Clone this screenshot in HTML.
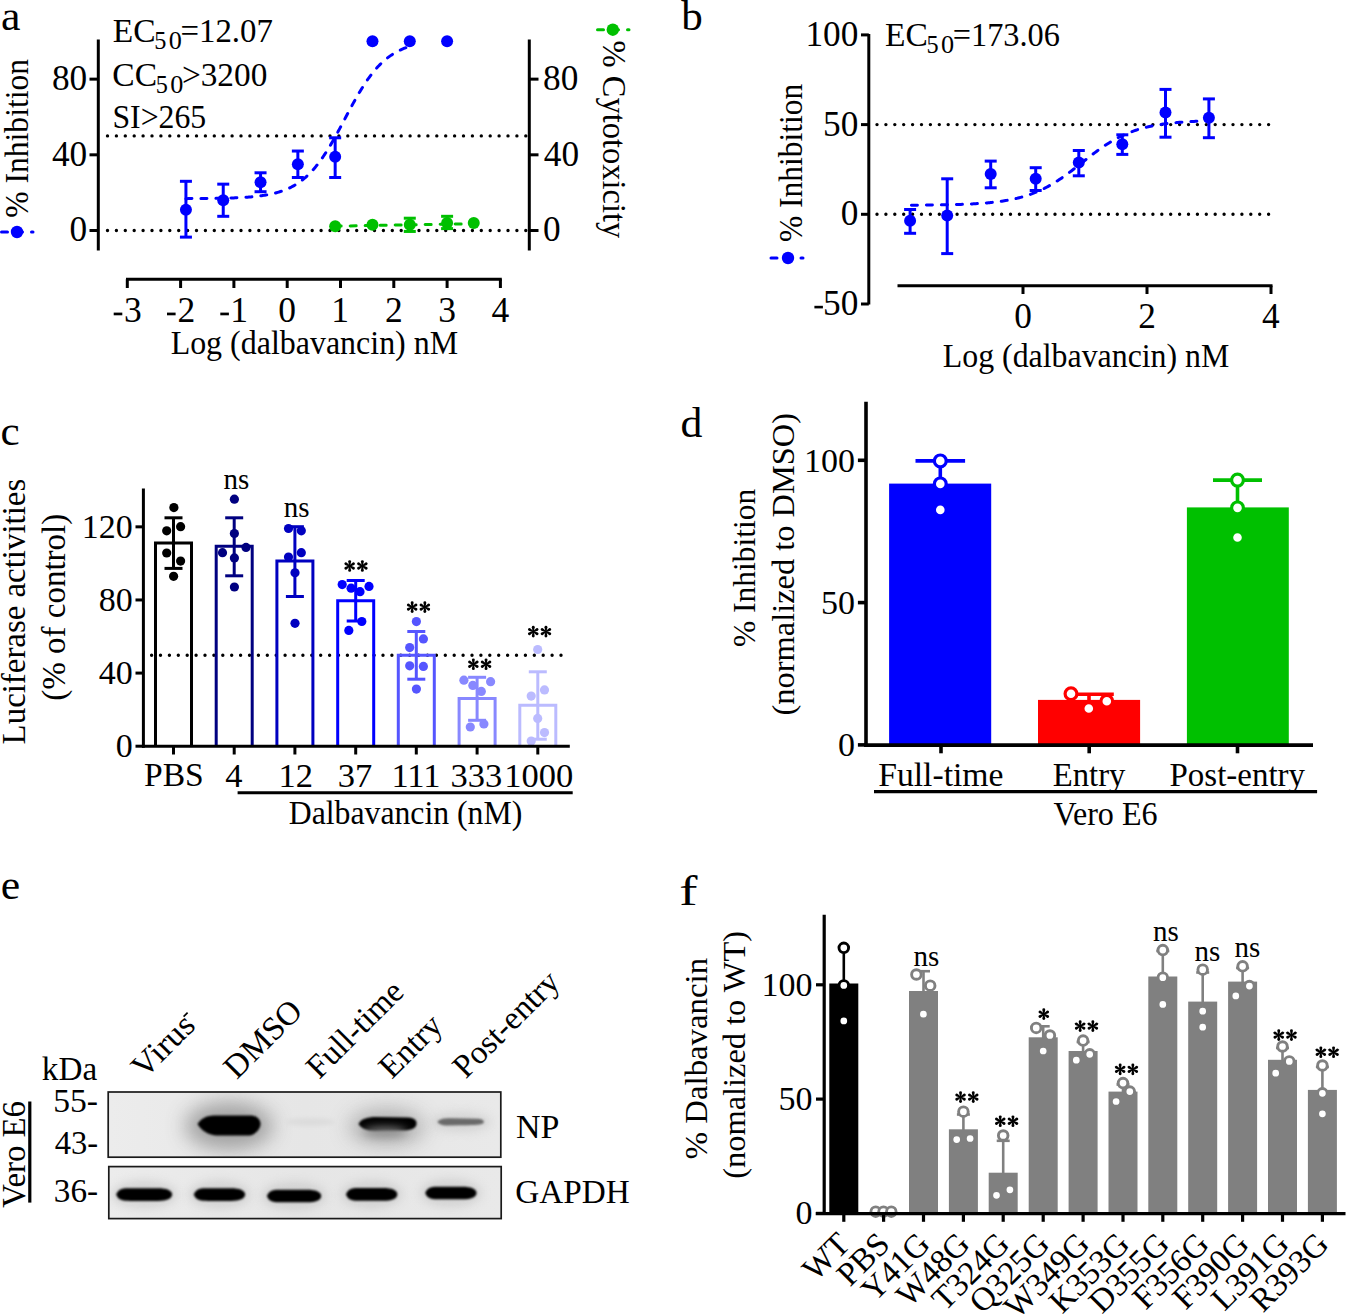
<!DOCTYPE html>
<html><head><meta charset="utf-8"><style>
html,body{margin:0;padding:0;background:#fff;overflow:hidden;}
svg{display:block;}
text{font-family:"Liberation Serif", serif;}
</style></head><body>
<svg width="1347" height="1316" viewBox="0 0 1347 1316">
<defs>
<g id="ast"><path d="M-0.65,-0.3 L-1.45,-4.4 A1.45,1.45 0 1 1 1.45,-4.4 L0.65,-0.3 Z" transform="rotate(0)"/><path d="M-0.65,-0.3 L-1.45,-4.4 A1.45,1.45 0 1 1 1.45,-4.4 L0.65,-0.3 Z" transform="rotate(60)"/><path d="M-0.65,-0.3 L-1.45,-4.4 A1.45,1.45 0 1 1 1.45,-4.4 L0.65,-0.3 Z" transform="rotate(120)"/><path d="M-0.65,-0.3 L-1.45,-4.4 A1.45,1.45 0 1 1 1.45,-4.4 L0.65,-0.3 Z" transform="rotate(180)"/><path d="M-0.65,-0.3 L-1.45,-4.4 A1.45,1.45 0 1 1 1.45,-4.4 L0.65,-0.3 Z" transform="rotate(240)"/><path d="M-0.65,-0.3 L-1.45,-4.4 A1.45,1.45 0 1 1 1.45,-4.4 L0.65,-0.3 Z" transform="rotate(300)"/><circle r="1.1"/></g>
<filter id="blur1" x="-50%" y="-100%" width="200%" height="300%"><feGaussianBlur stdDeviation="1.3"/></filter>
<filter id="blur2" x="-50%" y="-100%" width="200%" height="300%"><feGaussianBlur stdDeviation="2.2"/></filter>
<filter id="blur4" x="-50%" y="-100%" width="200%" height="300%"><feGaussianBlur stdDeviation="5"/></filter>
<filter id="blur8" x="-50%" y="-100%" width="200%" height="300%"><feGaussianBlur stdDeviation="10"/></filter>
</defs>
<text x="1.07" y="30.10" font-size="43" fill="#000" textLength="19.44" lengthAdjust="spacingAndGlyphs">a</text>
<line x1="98.30" y1="39.50" x2="98.30" y2="250.50" stroke="#000" stroke-width="3" />
<line x1="529.30" y1="39.50" x2="529.30" y2="250.50" stroke="#000" stroke-width="3" />
<line x1="89.50" y1="79.14" x2="98.30" y2="79.14" stroke="#000" stroke-width="3" />
<line x1="529.30" y1="79.14" x2="538.50" y2="79.14" stroke="#000" stroke-width="3" />
<text x="51.91" y="89.94" font-size="35.3" fill="#000" textLength="35.30" lengthAdjust="spacingAndGlyphs">80</text>
<text x="543.09" y="89.94" font-size="35.3" fill="#000" textLength="35.30" lengthAdjust="spacingAndGlyphs">80</text>
<line x1="89.50" y1="154.82" x2="98.30" y2="154.82" stroke="#000" stroke-width="3" />
<line x1="529.30" y1="154.82" x2="538.50" y2="154.82" stroke="#000" stroke-width="3" />
<text x="51.91" y="165.62" font-size="35.3" fill="#000" textLength="35.30" lengthAdjust="spacingAndGlyphs">40</text>
<text x="543.79" y="165.62" font-size="35.3" fill="#000" textLength="35.30" lengthAdjust="spacingAndGlyphs">40</text>
<line x1="89.50" y1="230.50" x2="98.30" y2="230.50" stroke="#000" stroke-width="3" />
<line x1="529.30" y1="230.50" x2="538.50" y2="230.50" stroke="#000" stroke-width="3" />
<text x="69.56" y="241.30" font-size="35.3" fill="#000" textLength="17.65" lengthAdjust="spacingAndGlyphs">0</text>
<text x="543.09" y="241.30" font-size="35.3" fill="#000" textLength="17.65" lengthAdjust="spacingAndGlyphs">0</text>
<line x1="107.50" y1="135.90" x2="528.00" y2="135.90" stroke="#000" stroke-width="3.4" stroke-linecap="round" stroke-dasharray="0 8.9"/>
<line x1="107.50" y1="230.50" x2="528.00" y2="230.50" stroke="#000" stroke-width="3.4" stroke-linecap="round" stroke-dasharray="0 8.9"/>
<line x1="126.00" y1="279.20" x2="501.80" y2="279.20" stroke="#000" stroke-width="3" />
<line x1="127.30" y1="279.20" x2="127.30" y2="288.00" stroke="#000" stroke-width="3" />
<text x="123.94" y="321.80" font-size="35.5" fill="#000" textLength="17.75" lengthAdjust="spacingAndGlyphs">3</text>
<rect x="113.70" y="312.60" width="8.60" height="2.70" fill="#000" stroke="none" stroke-width="0" />
<line x1="180.60" y1="279.20" x2="180.60" y2="288.00" stroke="#000" stroke-width="3" />
<text x="177.50" y="321.80" font-size="35.5" fill="#000" textLength="17.75" lengthAdjust="spacingAndGlyphs">2</text>
<rect x="167.00" y="312.60" width="8.60" height="2.70" fill="#000" stroke="none" stroke-width="0" />
<line x1="233.90" y1="279.20" x2="233.90" y2="288.00" stroke="#000" stroke-width="3" />
<text x="230.18" y="321.80" font-size="35.5" fill="#000" textLength="17.75" lengthAdjust="spacingAndGlyphs">1</text>
<rect x="220.30" y="312.60" width="8.60" height="2.70" fill="#000" stroke="none" stroke-width="0" />
<line x1="287.20" y1="279.20" x2="287.20" y2="288.00" stroke="#000" stroke-width="3" />
<text x="278.32" y="321.80" font-size="35.5" fill="#000" textLength="17.75" lengthAdjust="spacingAndGlyphs">0</text>
<line x1="340.50" y1="279.20" x2="340.50" y2="288.00" stroke="#000" stroke-width="3" />
<text x="331.18" y="321.80" font-size="35.5" fill="#000" textLength="17.75" lengthAdjust="spacingAndGlyphs">1</text>
<line x1="393.80" y1="279.20" x2="393.80" y2="288.00" stroke="#000" stroke-width="3" />
<text x="385.10" y="321.80" font-size="35.5" fill="#000" textLength="17.75" lengthAdjust="spacingAndGlyphs">2</text>
<line x1="447.10" y1="279.20" x2="447.10" y2="288.00" stroke="#000" stroke-width="3" />
<text x="438.14" y="321.80" font-size="35.5" fill="#000" textLength="17.75" lengthAdjust="spacingAndGlyphs">3</text>
<line x1="500.40" y1="279.20" x2="500.40" y2="288.00" stroke="#000" stroke-width="3" />
<text x="491.44" y="321.80" font-size="35.5" fill="#000" textLength="17.75" lengthAdjust="spacingAndGlyphs">4</text>
<text x="170.64" y="354.40" font-size="34" fill="#000" textLength="287.52" lengthAdjust="spacingAndGlyphs">Log (dalbavancin) nM</text>
<text x="-1.11" y="0.00" font-size="33" fill="#000" textLength="158.96" lengthAdjust="spacingAndGlyphs" transform="translate(27.90,216.70) rotate(-90)">% Inhibition</text>
<text x="-1.14" y="0.00" font-size="33" fill="#000" textLength="197.63" lengthAdjust="spacingAndGlyphs" transform="translate(603.10,41.70) rotate(90)">% Cytotoxicity</text>
<polyline points="1.50,232.00 33.00,232.00" fill="none" stroke="#0000ff" stroke-width="3" stroke-dasharray="6 9" stroke-linecap="round"/>
<circle cx="17.00" cy="232.00" r="6.2" fill="#0000ff" stroke="none" stroke-width="0"/>
<polyline points="597.50,29.70 629.00,29.70" fill="none" stroke="#00c000" stroke-width="3" stroke-dasharray="6 9" stroke-linecap="round"/>
<circle cx="612.80" cy="29.70" r="6.2" fill="#00c000" stroke="none" stroke-width="0"/>
<text x="112.70" y="42.10" font-size="33.5" fill="#000" textLength="42.81" lengthAdjust="spacingAndGlyphs">EC</text>
<text x="154.31" y="49.40" font-size="25" fill="#000" textLength="12.13" lengthAdjust="spacingAndGlyphs">5</text>
<text x="168.72" y="49.40" font-size="25" fill="#000" textLength="13.10" lengthAdjust="spacingAndGlyphs">0</text>
<text x="180.42" y="42.10" font-size="33.5" fill="#000" textLength="92.53" lengthAdjust="spacingAndGlyphs">=12.07</text>
<text x="112.36" y="86.00" font-size="33.5" fill="#000" textLength="44.69" lengthAdjust="spacingAndGlyphs">CC</text>
<text x="155.82" y="93.30" font-size="25" fill="#000" textLength="12.13" lengthAdjust="spacingAndGlyphs">5</text>
<text x="170.22" y="93.30" font-size="25" fill="#000" textLength="13.10" lengthAdjust="spacingAndGlyphs">0</text>
<text x="181.91" y="86.00" font-size="33.5" fill="#000" textLength="85.39" lengthAdjust="spacingAndGlyphs">&gt;3200</text>
<text x="112.44" y="128.00" font-size="33.5" fill="#000" textLength="93.78" lengthAdjust="spacingAndGlyphs">SI&gt;265</text>
<polyline points="185.93,198.63 187.00,198.63 188.06,198.62 189.13,198.62 190.19,198.61 191.26,198.61 192.33,198.60 193.39,198.59 194.46,198.59 195.52,198.58 196.59,198.58 197.66,198.57 198.72,198.56 199.79,198.55 200.85,198.54 201.92,198.54 202.99,198.53 204.05,198.52 205.12,198.51 206.18,198.49 207.25,198.48 208.32,198.47 209.38,198.46 210.45,198.45 211.51,198.43 212.58,198.42 213.65,198.40 214.71,198.39 215.78,198.37 216.84,198.35 217.91,198.33 218.98,198.31 220.04,198.29 221.11,198.27 222.17,198.25 223.24,198.22 224.31,198.20 225.37,198.17 226.44,198.14 227.50,198.11 228.57,198.08 229.64,198.05 230.70,198.01 231.77,197.98 232.83,197.94 233.90,197.90 234.97,197.86 236.03,197.81 237.10,197.76 238.16,197.72 239.23,197.66 240.30,197.61 241.36,197.55 242.43,197.49 243.49,197.43 244.56,197.36 245.63,197.29 246.69,197.22 247.76,197.14 248.82,197.06 249.89,196.98 250.96,196.89 252.02,196.80 253.09,196.70 254.15,196.59 255.22,196.49 256.29,196.37 257.35,196.25 258.42,196.13 259.48,195.99 260.55,195.85 261.62,195.71 262.68,195.56 263.75,195.39 264.81,195.23 265.88,195.05 266.95,194.86 268.01,194.67 269.08,194.46 270.14,194.25 271.21,194.02 272.28,193.79 273.34,193.54 274.41,193.28 275.47,193.01 276.54,192.72 277.61,192.42 278.67,192.11 279.74,191.78 280.80,191.44 281.87,191.08 282.94,190.70 284.00,190.31 285.07,189.89 286.13,189.46 287.20,189.01 288.27,188.54 289.33,188.05 290.40,187.53 291.46,186.99 292.53,186.43 293.60,185.84 294.66,185.23 295.73,184.59 296.79,183.93 297.86,183.23 298.93,182.51 299.99,181.76 301.06,180.97 302.12,180.16 303.19,179.31 304.26,178.43 305.32,177.52 306.39,176.57 307.45,175.59 308.52,174.57 309.59,173.51 310.65,172.42 311.72,171.29 312.78,170.12 313.85,168.91 314.92,167.66 315.98,166.38 317.05,165.05 318.11,163.69 319.18,162.28 320.25,160.84 321.31,159.36 322.38,157.84 323.44,156.28 324.51,154.69 325.58,153.05 326.64,151.39 327.71,149.68 328.77,147.95 329.84,146.18 330.91,144.38 331.97,142.55 333.04,140.70 334.10,138.82 335.17,136.91 336.24,134.98 337.30,133.04 338.37,131.07 339.43,129.10 340.50,127.10 341.57,125.10 342.63,123.09 343.70,121.08 344.76,119.06 345.83,117.04 346.90,115.03 347.96,113.02 349.03,111.02 350.09,109.03 351.16,107.05 352.23,105.08 353.29,103.14 354.36,101.21 355.42,99.31 356.49,97.43 357.56,95.57 358.62,93.74 359.69,91.94 360.75,90.18 361.82,88.44 362.89,86.74 363.95,85.07 365.02,83.44 366.08,81.84 367.15,80.28 368.22,78.76 369.28,77.28 370.35,75.84 371.41,74.43 372.48,73.07 373.55,71.74 374.61,70.46 375.68,69.21 376.74,68.00 377.81,66.83 378.88,65.70 379.94,64.61 381.01,63.55 382.07,62.53 383.14,61.55 384.21,60.60 385.27,59.69 386.34,58.81 387.40,57.96 388.47,57.15 389.54,56.37 390.60,55.61 391.67,54.89 392.73,54.20 393.80,53.53 394.87,52.89 395.93,52.28 397.00,51.69 398.06,51.13 399.13,50.59 400.20,50.08 401.26,49.58 402.33,49.11 403.39,48.66 404.46,48.23 405.53,47.82 406.59,47.42 407.66,47.04 408.72,46.68" fill="none" stroke="#0000ff" stroke-width="3" stroke-dasharray="6 9" stroke-linecap="round"/>
<line x1="185.93" y1="181.31" x2="185.93" y2="237.12" stroke="#0000ff" stroke-width="3" />
<line x1="179.93" y1="181.31" x2="191.93" y2="181.31" stroke="#0000ff" stroke-width="3" />
<line x1="179.93" y1="237.12" x2="191.93" y2="237.12" stroke="#0000ff" stroke-width="3" />
<circle cx="185.93" cy="209.69" r="6" fill="#0000ff" stroke="none" stroke-width="0"/>
<line x1="223.24" y1="184.15" x2="223.24" y2="216.31" stroke="#0000ff" stroke-width="3" />
<line x1="217.24" y1="184.15" x2="229.24" y2="184.15" stroke="#0000ff" stroke-width="3" />
<line x1="217.24" y1="216.31" x2="229.24" y2="216.31" stroke="#0000ff" stroke-width="3" />
<circle cx="223.24" cy="200.23" r="6" fill="#0000ff" stroke="none" stroke-width="0"/>
<line x1="260.55" y1="172.79" x2="260.55" y2="191.71" stroke="#0000ff" stroke-width="3" />
<line x1="254.55" y1="172.79" x2="266.55" y2="172.79" stroke="#0000ff" stroke-width="3" />
<line x1="254.55" y1="191.71" x2="266.55" y2="191.71" stroke="#0000ff" stroke-width="3" />
<circle cx="260.55" cy="182.25" r="6" fill="#0000ff" stroke="none" stroke-width="0"/>
<line x1="297.86" y1="151.04" x2="297.86" y2="177.52" stroke="#0000ff" stroke-width="3" />
<line x1="291.86" y1="151.04" x2="303.86" y2="151.04" stroke="#0000ff" stroke-width="3" />
<line x1="291.86" y1="177.52" x2="303.86" y2="177.52" stroke="#0000ff" stroke-width="3" />
<circle cx="297.86" cy="164.28" r="6" fill="#0000ff" stroke="none" stroke-width="0"/>
<line x1="335.17" y1="137.79" x2="335.17" y2="177.52" stroke="#0000ff" stroke-width="3" />
<line x1="329.17" y1="137.79" x2="341.17" y2="137.79" stroke="#0000ff" stroke-width="3" />
<line x1="329.17" y1="177.52" x2="341.17" y2="177.52" stroke="#0000ff" stroke-width="3" />
<circle cx="335.17" cy="156.71" r="6" fill="#0000ff" stroke="none" stroke-width="0"/>
<circle cx="372.48" cy="41.30" r="6" fill="#0000ff" stroke="none" stroke-width="0"/>
<circle cx="409.79" cy="41.30" r="6" fill="#0000ff" stroke="none" stroke-width="0"/>
<circle cx="447.10" cy="41.30" r="6" fill="#0000ff" stroke="none" stroke-width="0"/>
<polyline points="335.17,226.15 473.75,223.69" fill="none" stroke="#00c000" stroke-width="3" stroke-dasharray="6 9" stroke-linecap="round"/>
<circle cx="335.17" cy="226.34" r="6" fill="#00c000" stroke="none" stroke-width="0"/>
<circle cx="372.48" cy="224.82" r="6" fill="#00c000" stroke="none" stroke-width="0"/>
<line x1="409.79" y1="218.20" x2="409.79" y2="231.45" stroke="#00c000" stroke-width="3" />
<line x1="403.79" y1="218.20" x2="415.79" y2="218.20" stroke="#00c000" stroke-width="3" />
<line x1="403.79" y1="231.45" x2="415.79" y2="231.45" stroke="#00c000" stroke-width="3" />
<circle cx="409.79" cy="224.82" r="6" fill="#00c000" stroke="none" stroke-width="0"/>
<line x1="447.10" y1="216.31" x2="447.10" y2="228.61" stroke="#00c000" stroke-width="3" />
<line x1="441.10" y1="216.31" x2="453.10" y2="216.31" stroke="#00c000" stroke-width="3" />
<line x1="441.10" y1="228.61" x2="453.10" y2="228.61" stroke="#00c000" stroke-width="3" />
<circle cx="447.10" cy="222.93" r="6" fill="#00c000" stroke="none" stroke-width="0"/>
<circle cx="473.75" cy="222.93" r="6" fill="#00c000" stroke="none" stroke-width="0"/>
<text x="681.20" y="30.10" font-size="43" fill="#000" textLength="21.52" lengthAdjust="spacingAndGlyphs">b</text>
<line x1="868.80" y1="34.00" x2="868.80" y2="304.50" stroke="#000" stroke-width="3" />
<line x1="861.00" y1="34.90" x2="868.80" y2="34.90" stroke="#000" stroke-width="3" />
<text x="805.46" y="45.80" font-size="35.3" fill="#000" textLength="52.95" lengthAdjust="spacingAndGlyphs">100</text>
<line x1="861.00" y1="124.60" x2="868.80" y2="124.60" stroke="#000" stroke-width="3" />
<text x="823.11" y="135.50" font-size="35.3" fill="#000" textLength="35.30" lengthAdjust="spacingAndGlyphs">50</text>
<line x1="861.00" y1="214.30" x2="868.80" y2="214.30" stroke="#000" stroke-width="3" />
<text x="840.76" y="225.20" font-size="35.3" fill="#000" textLength="17.65" lengthAdjust="spacingAndGlyphs">0</text>
<line x1="861.00" y1="304.00" x2="868.80" y2="304.00" stroke="#000" stroke-width="3" />
<text x="823.11" y="314.90" font-size="35.3" fill="#000" textLength="35.30" lengthAdjust="spacingAndGlyphs">50</text>
<rect x="814.40" y="305.80" width="8.50" height="2.60" fill="#000" stroke="none" stroke-width="0" />
<line x1="877.00" y1="124.60" x2="1271.00" y2="124.60" stroke="#000" stroke-width="3.4" stroke-linecap="round" stroke-dasharray="0 8.9"/>
<line x1="877.00" y1="214.30" x2="1271.00" y2="214.30" stroke="#000" stroke-width="3.4" stroke-linecap="round" stroke-dasharray="0 8.9"/>
<line x1="897.50" y1="285.70" x2="1272.50" y2="285.70" stroke="#000" stroke-width="3" />
<line x1="1023.00" y1="285.70" x2="1023.00" y2="294.00" stroke="#000" stroke-width="3" />
<text x="1014.17" y="327.60" font-size="35.3" fill="#000" textLength="17.65" lengthAdjust="spacingAndGlyphs">0</text>
<line x1="1147.00" y1="285.70" x2="1147.00" y2="294.00" stroke="#000" stroke-width="3" />
<text x="1138.35" y="327.60" font-size="35.3" fill="#000" textLength="17.65" lengthAdjust="spacingAndGlyphs">2</text>
<line x1="1271.00" y1="285.70" x2="1271.00" y2="294.00" stroke="#000" stroke-width="3" />
<text x="1262.09" y="327.60" font-size="35.3" fill="#000" textLength="17.65" lengthAdjust="spacingAndGlyphs">4</text>
<text x="942.84" y="367.10" font-size="34" fill="#000" textLength="286.52" lengthAdjust="spacingAndGlyphs">Log (dalbavancin) nM</text>
<text x="-1.10" y="0.00" font-size="33" fill="#000" textLength="158.25" lengthAdjust="spacingAndGlyphs" transform="translate(801.50,241.00) rotate(-90)">% Inhibition</text>
<polyline points="771.00,258.00 803.00,258.00" fill="none" stroke="#0000ff" stroke-width="3" stroke-dasharray="6 9" stroke-linecap="round"/>
<circle cx="788.00" cy="258.00" r="6.2" fill="#0000ff" stroke="none" stroke-width="0"/>
<text x="885.00" y="46.00" font-size="33.5" fill="#000" textLength="42.81" lengthAdjust="spacingAndGlyphs">EC</text>
<text x="926.61" y="53.30" font-size="25" fill="#000" textLength="12.12" lengthAdjust="spacingAndGlyphs">5</text>
<text x="941.02" y="53.30" font-size="25" fill="#000" textLength="13.10" lengthAdjust="spacingAndGlyphs">0</text>
<text x="952.75" y="46.00" font-size="33.5" fill="#000" textLength="107.19" lengthAdjust="spacingAndGlyphs">=173.06</text>
<polyline points="911.40,205.18 912.64,205.17 913.88,205.16 915.12,205.16 916.36,205.15 917.60,205.14 918.84,205.13 920.08,205.12 921.32,205.11 922.56,205.10 923.80,205.09 925.04,205.08 926.28,205.07 927.52,205.06 928.76,205.04 930.00,205.03 931.24,205.01 932.48,205.00 933.72,204.98 934.96,204.97 936.20,204.95 937.44,204.93 938.68,204.91 939.92,204.90 941.16,204.87 942.40,204.85 943.64,204.83 944.88,204.81 946.12,204.78 947.36,204.76 948.60,204.73 949.84,204.70 951.08,204.67 952.32,204.64 953.56,204.61 954.80,204.58 956.04,204.54 957.28,204.51 958.52,204.47 959.76,204.43 961.00,204.38 962.24,204.34 963.48,204.29 964.72,204.25 965.96,204.20 967.20,204.14 968.44,204.09 969.68,204.03 970.92,203.97 972.16,203.91 973.40,203.84 974.64,203.77 975.88,203.70 977.12,203.62 978.36,203.55 979.60,203.46 980.84,203.38 982.08,203.29 983.32,203.19 984.56,203.10 985.80,202.99 987.04,202.89 988.28,202.78 989.52,202.66 990.76,202.54 992.00,202.41 993.24,202.28 994.48,202.14 995.72,201.99 996.96,201.84 998.20,201.69 999.44,201.52 1000.68,201.35 1001.92,201.17 1003.16,200.99 1004.40,200.79 1005.64,200.59 1006.88,200.38 1008.12,200.16 1009.36,199.93 1010.60,199.70 1011.84,199.45 1013.08,199.19 1014.32,198.92 1015.56,198.65 1016.80,198.36 1018.04,198.06 1019.28,197.74 1020.52,197.42 1021.76,197.08 1023.00,196.73 1024.24,196.37 1025.48,195.99 1026.72,195.61 1027.96,195.20 1029.20,194.78 1030.44,194.35 1031.68,193.90 1032.92,193.44 1034.16,192.96 1035.40,192.46 1036.64,191.95 1037.88,191.43 1039.12,190.88 1040.36,190.32 1041.60,189.74 1042.84,189.15 1044.08,188.53 1045.32,187.91 1046.56,187.26 1047.80,186.59 1049.04,185.91 1050.28,185.21 1051.52,184.50 1052.76,183.76 1054.00,183.01 1055.24,182.25 1056.48,181.46 1057.72,180.66 1058.96,179.85 1060.20,179.02 1061.44,178.17 1062.68,177.31 1063.92,176.44 1065.16,175.56 1066.40,174.66 1067.64,173.75 1068.88,172.83 1070.12,171.90 1071.36,170.96 1072.60,170.01 1073.84,169.05 1075.08,168.09 1076.32,167.12 1077.56,166.15 1078.80,165.17 1080.04,164.19 1081.28,163.21 1082.52,162.23 1083.76,161.25 1085.00,160.27 1086.24,159.30 1087.48,158.32 1088.72,157.36 1089.96,156.39 1091.20,155.44 1092.44,154.49 1093.68,153.55 1094.92,152.62 1096.16,151.70 1097.40,150.79 1098.64,149.89 1099.88,149.00 1101.12,148.13 1102.36,147.27 1103.60,146.43 1104.84,145.60 1106.08,144.78 1107.32,143.98 1108.56,143.20 1109.80,142.43 1111.04,141.68 1112.28,140.95 1113.52,140.23 1114.76,139.53 1116.00,138.85 1117.24,138.19 1118.48,137.54 1119.72,136.91 1120.96,136.30 1122.20,135.70 1123.44,135.12 1124.68,134.56 1125.92,134.02 1127.16,133.49 1128.40,132.98 1129.64,132.49 1130.88,132.01 1132.12,131.54 1133.36,131.10 1134.60,130.66 1135.84,130.24 1137.08,129.84 1138.32,129.45 1139.56,129.07 1140.80,128.71 1142.04,128.36 1143.28,128.03 1144.52,127.70 1145.76,127.39 1147.00,127.09 1148.24,126.80 1149.48,126.52 1150.72,126.25 1151.96,126.00 1153.20,125.75 1154.44,125.51 1155.68,125.28 1156.92,125.06 1158.16,124.85 1159.40,124.65 1160.64,124.46 1161.88,124.27 1163.12,124.09 1164.36,123.92 1165.60,123.76 1166.84,123.60 1168.08,123.45 1169.32,123.31 1170.56,123.17 1171.80,123.03 1173.04,122.91 1174.28,122.79 1175.52,122.67 1176.76,122.56 1178.00,122.45 1179.24,122.35 1180.48,122.25 1181.72,122.16 1182.96,122.07 1184.20,121.98 1185.44,121.90 1186.68,121.82 1187.92,121.74 1189.16,121.67 1190.40,121.60 1191.64,121.54 1192.88,121.47 1194.12,121.41 1195.36,121.36 1196.60,121.30 1197.84,121.25 1199.08,121.20 1200.32,121.15 1201.56,121.10 1202.80,121.06 1204.04,121.02 1205.28,120.98 1206.52,120.94 1207.76,120.90 1209.00,120.87" fill="none" stroke="#0000ff" stroke-width="3" stroke-dasharray="6 9" stroke-linecap="round"/>
<line x1="910.10" y1="209.50" x2="910.10" y2="233.30" stroke="#0000ff" stroke-width="3" />
<line x1="904.10" y1="209.50" x2="916.10" y2="209.50" stroke="#0000ff" stroke-width="3" />
<line x1="904.10" y1="233.30" x2="916.10" y2="233.30" stroke="#0000ff" stroke-width="3" />
<circle cx="910.10" cy="220.80" r="6" fill="#0000ff" stroke="none" stroke-width="0"/>
<line x1="947.20" y1="178.80" x2="947.20" y2="253.60" stroke="#0000ff" stroke-width="3" />
<line x1="941.20" y1="178.80" x2="953.20" y2="178.80" stroke="#0000ff" stroke-width="3" />
<line x1="941.20" y1="253.60" x2="953.20" y2="253.60" stroke="#0000ff" stroke-width="3" />
<circle cx="947.20" cy="215.50" r="6" fill="#0000ff" stroke="none" stroke-width="0"/>
<line x1="990.70" y1="161.10" x2="990.70" y2="187.80" stroke="#0000ff" stroke-width="3" />
<line x1="984.70" y1="161.10" x2="996.70" y2="161.10" stroke="#0000ff" stroke-width="3" />
<line x1="984.70" y1="187.80" x2="996.70" y2="187.80" stroke="#0000ff" stroke-width="3" />
<circle cx="990.70" cy="174.10" r="6" fill="#0000ff" stroke="none" stroke-width="0"/>
<line x1="1035.70" y1="167.70" x2="1035.70" y2="190.50" stroke="#0000ff" stroke-width="3" />
<line x1="1029.70" y1="167.70" x2="1041.70" y2="167.70" stroke="#0000ff" stroke-width="3" />
<line x1="1029.70" y1="190.50" x2="1041.70" y2="190.50" stroke="#0000ff" stroke-width="3" />
<circle cx="1035.70" cy="178.80" r="6" fill="#0000ff" stroke="none" stroke-width="0"/>
<line x1="1078.80" y1="150.50" x2="1078.80" y2="175.80" stroke="#0000ff" stroke-width="3" />
<line x1="1072.80" y1="150.50" x2="1084.80" y2="150.50" stroke="#0000ff" stroke-width="3" />
<line x1="1072.80" y1="175.80" x2="1084.80" y2="175.80" stroke="#0000ff" stroke-width="3" />
<circle cx="1078.80" cy="162.40" r="6" fill="#0000ff" stroke="none" stroke-width="0"/>
<line x1="1122.30" y1="134.80" x2="1122.30" y2="154.40" stroke="#0000ff" stroke-width="3" />
<line x1="1116.30" y1="134.80" x2="1128.30" y2="134.80" stroke="#0000ff" stroke-width="3" />
<line x1="1116.30" y1="154.40" x2="1128.30" y2="154.40" stroke="#0000ff" stroke-width="3" />
<circle cx="1122.30" cy="144.20" r="6" fill="#0000ff" stroke="none" stroke-width="0"/>
<line x1="1165.50" y1="89.40" x2="1165.50" y2="137.20" stroke="#0000ff" stroke-width="3" />
<line x1="1159.50" y1="89.40" x2="1171.50" y2="89.40" stroke="#0000ff" stroke-width="3" />
<line x1="1159.50" y1="137.20" x2="1171.50" y2="137.20" stroke="#0000ff" stroke-width="3" />
<circle cx="1165.50" cy="112.60" r="6" fill="#0000ff" stroke="none" stroke-width="0"/>
<line x1="1208.90" y1="98.90" x2="1208.90" y2="137.70" stroke="#0000ff" stroke-width="3" />
<line x1="1202.90" y1="98.90" x2="1214.90" y2="98.90" stroke="#0000ff" stroke-width="3" />
<line x1="1202.90" y1="137.70" x2="1214.90" y2="137.70" stroke="#0000ff" stroke-width="3" />
<circle cx="1208.90" cy="117.70" r="6" fill="#0000ff" stroke="none" stroke-width="0"/>
<text x="0.57" y="445.20" font-size="43" fill="#000" textLength="19.17" lengthAdjust="spacingAndGlyphs">c</text>
<line x1="143.40" y1="488.50" x2="143.40" y2="747.70" stroke="#000" stroke-width="3" />
<line x1="135.50" y1="746.20" x2="143.40" y2="746.20" stroke="#000" stroke-width="3" />
<text x="115.86" y="757.20" font-size="34" fill="#000" textLength="17.00" lengthAdjust="spacingAndGlyphs">0</text>
<line x1="135.50" y1="673.08" x2="143.40" y2="673.08" stroke="#000" stroke-width="3" />
<text x="98.86" y="684.08" font-size="34" fill="#000" textLength="34.00" lengthAdjust="spacingAndGlyphs">40</text>
<line x1="135.50" y1="599.96" x2="143.40" y2="599.96" stroke="#000" stroke-width="3" />
<text x="98.86" y="610.96" font-size="34" fill="#000" textLength="34.00" lengthAdjust="spacingAndGlyphs">80</text>
<line x1="135.50" y1="526.84" x2="143.40" y2="526.84" stroke="#000" stroke-width="3" />
<text x="81.86" y="537.84" font-size="34" fill="#000" textLength="51.00" lengthAdjust="spacingAndGlyphs">120</text>
<line x1="151.60" y1="655.20" x2="564.00" y2="655.20" stroke="#000" stroke-width="3.4" stroke-linecap="round" stroke-dasharray="0 8.9"/>
<path d="M155.50,746.20 V543.11 H191.50 V746.20" fill="none" stroke="#000000" stroke-width="3"/>
<line x1="173.50" y1="517.80" x2="173.50" y2="568.40" stroke="#000000" stroke-width="3" />
<line x1="164.50" y1="517.80" x2="182.50" y2="517.80" stroke="#000000" stroke-width="3" />
<line x1="164.50" y1="568.40" x2="182.50" y2="568.40" stroke="#000000" stroke-width="3" />
<circle cx="173.90" cy="507.60" r="4.6" fill="#000000" stroke="none" stroke-width="0"/>
<circle cx="166.70" cy="530.80" r="4.6" fill="#000000" stroke="none" stroke-width="0"/>
<circle cx="180.60" cy="526.70" r="4.6" fill="#000000" stroke="none" stroke-width="0"/>
<circle cx="166.70" cy="553.00" r="4.6" fill="#000000" stroke="none" stroke-width="0"/>
<circle cx="180.60" cy="561.10" r="4.6" fill="#000000" stroke="none" stroke-width="0"/>
<circle cx="173.60" cy="576.30" r="4.6" fill="#000000" stroke="none" stroke-width="0"/>
<line x1="173.50" y1="746.20" x2="173.50" y2="754.50" stroke="#000" stroke-width="3" />
<path d="M216.20,746.20 V546.22 H252.20 V746.20" fill="none" stroke="#000080" stroke-width="3"/>
<line x1="234.20" y1="517.80" x2="234.20" y2="575.80" stroke="#000080" stroke-width="3" />
<line x1="225.20" y1="517.80" x2="243.20" y2="517.80" stroke="#000080" stroke-width="3" />
<line x1="225.20" y1="575.80" x2="243.20" y2="575.80" stroke="#000080" stroke-width="3" />
<circle cx="234.40" cy="499.20" r="4.6" fill="#000080" stroke="none" stroke-width="0"/>
<circle cx="234.40" cy="533.50" r="4.6" fill="#000080" stroke="none" stroke-width="0"/>
<circle cx="222.50" cy="552.70" r="4.6" fill="#000080" stroke="none" stroke-width="0"/>
<circle cx="246.00" cy="547.40" r="4.6" fill="#000080" stroke="none" stroke-width="0"/>
<circle cx="234.40" cy="557.90" r="4.6" fill="#000080" stroke="none" stroke-width="0"/>
<circle cx="234.40" cy="587.00" r="4.6" fill="#000080" stroke="none" stroke-width="0"/>
<line x1="234.20" y1="746.20" x2="234.20" y2="754.50" stroke="#000" stroke-width="3" />
<path d="M276.90,746.20 V561.02 H312.90 V746.20" fill="none" stroke="#0000c0" stroke-width="3"/>
<line x1="294.90" y1="526.70" x2="294.90" y2="596.50" stroke="#0000c0" stroke-width="3" />
<line x1="285.90" y1="526.70" x2="303.90" y2="526.70" stroke="#0000c0" stroke-width="3" />
<line x1="285.90" y1="596.50" x2="303.90" y2="596.50" stroke="#0000c0" stroke-width="3" />
<circle cx="288.50" cy="528.50" r="4.6" fill="#0000c0" stroke="none" stroke-width="0"/>
<circle cx="301.30" cy="530.80" r="4.6" fill="#0000c0" stroke="none" stroke-width="0"/>
<circle cx="288.50" cy="557.00" r="4.6" fill="#0000c0" stroke="none" stroke-width="0"/>
<circle cx="301.30" cy="552.70" r="4.6" fill="#0000c0" stroke="none" stroke-width="0"/>
<circle cx="295.00" cy="572.80" r="4.6" fill="#0000c0" stroke="none" stroke-width="0"/>
<circle cx="295.00" cy="623.30" r="4.6" fill="#0000c0" stroke="none" stroke-width="0"/>
<line x1="294.90" y1="746.20" x2="294.90" y2="754.50" stroke="#000" stroke-width="3" />
<path d="M337.70,746.20 V600.69 H373.70 V746.20" fill="none" stroke="#0000ff" stroke-width="3"/>
<line x1="355.70" y1="580.50" x2="355.70" y2="621.00" stroke="#0000ff" stroke-width="3" />
<line x1="346.70" y1="580.50" x2="364.70" y2="580.50" stroke="#0000ff" stroke-width="3" />
<line x1="346.70" y1="621.00" x2="364.70" y2="621.00" stroke="#0000ff" stroke-width="3" />
<circle cx="342.20" cy="584.60" r="4.6" fill="#0000ff" stroke="none" stroke-width="0"/>
<circle cx="351.10" cy="588.20" r="4.6" fill="#0000ff" stroke="none" stroke-width="0"/>
<circle cx="360.00" cy="591.70" r="4.6" fill="#0000ff" stroke="none" stroke-width="0"/>
<circle cx="369.00" cy="586.40" r="4.6" fill="#0000ff" stroke="none" stroke-width="0"/>
<circle cx="361.80" cy="621.50" r="4.6" fill="#0000ff" stroke="none" stroke-width="0"/>
<circle cx="348.80" cy="630.40" r="4.6" fill="#0000ff" stroke="none" stroke-width="0"/>
<line x1="355.70" y1="746.20" x2="355.70" y2="754.50" stroke="#000" stroke-width="3" />
<path d="M398.30,746.20 V655.35 H434.30 V746.20" fill="none" stroke="#5555ff" stroke-width="3"/>
<line x1="416.30" y1="631.50" x2="416.30" y2="679.20" stroke="#5555ff" stroke-width="3" />
<line x1="407.30" y1="631.50" x2="425.30" y2="631.50" stroke="#5555ff" stroke-width="3" />
<line x1="407.30" y1="679.20" x2="425.30" y2="679.20" stroke="#5555ff" stroke-width="3" />
<circle cx="416.40" cy="621.60" r="4.6" fill="#5555ff" stroke="none" stroke-width="0"/>
<circle cx="423.40" cy="638.90" r="4.6" fill="#5555ff" stroke="none" stroke-width="0"/>
<circle cx="409.70" cy="647.60" r="4.6" fill="#5555ff" stroke="none" stroke-width="0"/>
<circle cx="409.70" cy="665.80" r="4.6" fill="#5555ff" stroke="none" stroke-width="0"/>
<circle cx="423.40" cy="666.40" r="4.6" fill="#5555ff" stroke="none" stroke-width="0"/>
<circle cx="416.40" cy="689.10" r="4.6" fill="#5555ff" stroke="none" stroke-width="0"/>
<line x1="416.30" y1="746.20" x2="416.30" y2="754.50" stroke="#000" stroke-width="3" />
<path d="M459.10,746.20 V698.49 H495.10 V746.20" fill="none" stroke="#8888ff" stroke-width="3"/>
<line x1="477.10" y1="677.30" x2="477.10" y2="720.30" stroke="#8888ff" stroke-width="3" />
<line x1="468.10" y1="677.30" x2="486.10" y2="677.30" stroke="#8888ff" stroke-width="3" />
<line x1="468.10" y1="720.30" x2="486.10" y2="720.30" stroke="#8888ff" stroke-width="3" />
<circle cx="463.90" cy="680.20" r="4.6" fill="#8888ff" stroke="none" stroke-width="0"/>
<circle cx="472.80" cy="685.40" r="4.6" fill="#8888ff" stroke="none" stroke-width="0"/>
<circle cx="481.30" cy="691.40" r="4.6" fill="#8888ff" stroke="none" stroke-width="0"/>
<circle cx="490.60" cy="681.70" r="4.6" fill="#8888ff" stroke="none" stroke-width="0"/>
<circle cx="483.90" cy="724.00" r="4.6" fill="#8888ff" stroke="none" stroke-width="0"/>
<circle cx="470.30" cy="727.00" r="4.6" fill="#8888ff" stroke="none" stroke-width="0"/>
<line x1="477.10" y1="746.20" x2="477.10" y2="754.50" stroke="#000" stroke-width="3" />
<path d="M519.80,746.20 V705.25 H555.80 V746.20" fill="none" stroke="#bbbbff" stroke-width="3"/>
<line x1="537.80" y1="671.80" x2="537.80" y2="739.20" stroke="#bbbbff" stroke-width="3" />
<line x1="528.80" y1="671.80" x2="546.80" y2="671.80" stroke="#bbbbff" stroke-width="3" />
<line x1="528.80" y1="739.20" x2="546.80" y2="739.20" stroke="#bbbbff" stroke-width="3" />
<circle cx="537.70" cy="649.50" r="4.6" fill="#bbbbff" stroke="none" stroke-width="0"/>
<circle cx="544.50" cy="689.90" r="4.6" fill="#bbbbff" stroke="none" stroke-width="0"/>
<circle cx="531.20" cy="696.10" r="4.6" fill="#bbbbff" stroke="none" stroke-width="0"/>
<circle cx="537.70" cy="718.40" r="4.6" fill="#bbbbff" stroke="none" stroke-width="0"/>
<circle cx="544.50" cy="732.60" r="4.6" fill="#bbbbff" stroke="none" stroke-width="0"/>
<circle cx="531.20" cy="741.10" r="4.6" fill="#bbbbff" stroke="none" stroke-width="0"/>
<line x1="537.80" y1="746.20" x2="537.80" y2="754.50" stroke="#000" stroke-width="3" />
<line x1="142.00" y1="746.20" x2="569.80" y2="746.20" stroke="#000" stroke-width="3" />
<text x="143.99" y="786.00" font-size="33.5" fill="#000" textLength="59.80" lengthAdjust="spacingAndGlyphs">PBS</text>
<text x="233.90" y="786.50" font-size="34.5" text-anchor="middle" fill="#000" >4</text>
<text x="295.70" y="786.50" font-size="34.5" text-anchor="middle" fill="#000" >12</text>
<text x="354.90" y="786.50" font-size="34.5" text-anchor="middle" fill="#000" >37</text>
<text x="416.00" y="786.50" font-size="34.5" text-anchor="middle" fill="#000" >111</text>
<text x="476.40" y="786.50" font-size="34.5" text-anchor="middle" fill="#000" >333</text>
<text x="538.70" y="786.50" font-size="34.5" text-anchor="middle" fill="#000" >1000</text>
<line x1="237.60" y1="792.80" x2="572.70" y2="792.80" stroke="#000" stroke-width="3" />
<text x="288.75" y="824.20" font-size="33" fill="#000" textLength="233.53" lengthAdjust="spacingAndGlyphs">Dalbavancin (nM)</text>
<text x="-0.99" y="0.00" font-size="33" fill="#000" textLength="265.60" lengthAdjust="spacingAndGlyphs" transform="translate(25.40,743.40) rotate(-90)">Luciferase activities</text>
<text x="-1.49" y="0.00" font-size="33" fill="#000" textLength="187.06" lengthAdjust="spacingAndGlyphs" transform="translate(64.60,699.30) rotate(-90)">(% of control)</text>
<text x="223.51" y="488.50" font-size="29" fill="#000" textLength="25.79" lengthAdjust="spacingAndGlyphs">ns</text>
<text x="283.81" y="517.40" font-size="29" fill="#000" textLength="25.79" lengthAdjust="spacingAndGlyphs">ns</text>
<use href="#ast" transform="translate(349.65,566.00) scale(1.000)" fill="#000"/>
<use href="#ast" transform="translate(362.35,566.00) scale(1.000)" fill="#000"/>
<use href="#ast" transform="translate(412.15,607.10) scale(1.000)" fill="#000"/>
<use href="#ast" transform="translate(424.85,607.10) scale(1.000)" fill="#000"/>
<use href="#ast" transform="translate(473.35,664.25) scale(1.000)" fill="#000"/>
<use href="#ast" transform="translate(486.05,664.25) scale(1.000)" fill="#000"/>
<use href="#ast" transform="translate(533.25,631.60) scale(1.000)" fill="#000"/>
<use href="#ast" transform="translate(545.95,631.60) scale(1.000)" fill="#000"/>
<text x="680.47" y="436.80" font-size="43" fill="#000" textLength="21.87" lengthAdjust="spacingAndGlyphs">d</text>
<rect x="889.10" y="483.60" width="102.10" height="261.40" fill="#0000ff" stroke="none" stroke-width="0" />
<rect x="1038.00" y="699.90" width="102.10" height="45.10" fill="#ff0000" stroke="none" stroke-width="0" />
<rect x="1186.90" y="507.40" width="101.90" height="237.60" fill="#00c000" stroke="none" stroke-width="0" />
<line x1="866.00" y1="401.80" x2="866.00" y2="746.80" stroke="#000" stroke-width="3.6" />
<line x1="857.90" y1="744.90" x2="866.00" y2="744.90" stroke="#000" stroke-width="3.6" />
<text x="837.96" y="756.10" font-size="34" fill="#000" textLength="17.00" lengthAdjust="spacingAndGlyphs">0</text>
<line x1="857.90" y1="602.60" x2="866.00" y2="602.60" stroke="#000" stroke-width="3.6" />
<text x="820.96" y="613.80" font-size="34" fill="#000" textLength="34.00" lengthAdjust="spacingAndGlyphs">50</text>
<line x1="857.90" y1="460.30" x2="866.00" y2="460.30" stroke="#000" stroke-width="3.6" />
<text x="803.96" y="471.50" font-size="34" fill="#000" textLength="51.00" lengthAdjust="spacingAndGlyphs">100</text>
<line x1="864.00" y1="745.10" x2="1313.00" y2="745.10" stroke="#000" stroke-width="3.6" />
<line x1="941.00" y1="745.00" x2="941.00" y2="753.30" stroke="#000" stroke-width="3.6" />
<line x1="1089.20" y1="745.00" x2="1089.20" y2="753.30" stroke="#000" stroke-width="3.6" />
<line x1="1237.50" y1="745.00" x2="1237.50" y2="753.30" stroke="#000" stroke-width="3.6" />
<line x1="940.30" y1="460.90" x2="940.30" y2="485.60" stroke="#0000ff" stroke-width="3.6" />
<line x1="915.50" y1="460.90" x2="965.10" y2="460.90" stroke="#0000ff" stroke-width="3.6" />
<circle cx="940.30" cy="460.90" r="5.9" fill="#fff" stroke="#0000ff" stroke-width="3.2"/>
<circle cx="940.30" cy="483.90" r="5.9" fill="#fff" stroke="#0000ff" stroke-width="3.2"/>
<circle cx="940.30" cy="509.90" r="5.9" fill="#fff" stroke="#0000ff" stroke-width="3.2"/>
<line x1="1089.00" y1="694.20" x2="1089.00" y2="701.90" stroke="#ff0000" stroke-width="3.6" />
<line x1="1064.20" y1="694.20" x2="1113.80" y2="694.20" stroke="#ff0000" stroke-width="3.6" />
<circle cx="1071.00" cy="693.70" r="5.9" fill="#fff" stroke="#ff0000" stroke-width="3.2"/>
<circle cx="1106.80" cy="701.20" r="5.9" fill="#fff" stroke="#ff0000" stroke-width="3.2"/>
<circle cx="1088.80" cy="708.50" r="5.9" fill="#fff" stroke="#ff0000" stroke-width="3.2"/>
<line x1="1237.50" y1="480.10" x2="1237.50" y2="509.40" stroke="#00c000" stroke-width="3.6" />
<line x1="1213.00" y1="480.10" x2="1262.00" y2="480.10" stroke="#00c000" stroke-width="3.6" />
<circle cx="1237.50" cy="480.10" r="5.9" fill="#fff" stroke="#00c000" stroke-width="3.2"/>
<circle cx="1237.50" cy="507.90" r="5.9" fill="#fff" stroke="#00c000" stroke-width="3.2"/>
<circle cx="1237.50" cy="537.50" r="5.9" fill="#fff" stroke="#00c000" stroke-width="3.2"/>
<text x="878.19" y="786.10" font-size="33.5" fill="#000" textLength="125.29" lengthAdjust="spacingAndGlyphs">Full-time</text>
<text x="1052.72" y="786.10" font-size="33.5" fill="#000" textLength="72.70" lengthAdjust="spacingAndGlyphs">Entry</text>
<text x="1169.51" y="786.10" font-size="33.5" fill="#000" textLength="135.58" lengthAdjust="spacingAndGlyphs">Post-entry</text>
<line x1="874.00" y1="791.60" x2="1317.10" y2="791.60" stroke="#000" stroke-width="3.2" />
<text x="1053.38" y="824.80" font-size="33" fill="#000" textLength="104.15" lengthAdjust="spacingAndGlyphs">Vero E6</text>
<text x="-1.10" y="0.00" font-size="32" fill="#000" textLength="158.35" lengthAdjust="spacingAndGlyphs" transform="translate(754.60,646.00) rotate(-90)">% Inhibition</text>
<text x="-1.46" y="0.00" font-size="32" fill="#000" textLength="302.41" lengthAdjust="spacingAndGlyphs" transform="translate(793.60,714.00) rotate(-90)">(normalized to DMSO)</text>
<text x="0.85" y="898.50" font-size="43" fill="#000" textLength="19.43" lengthAdjust="spacingAndGlyphs">e</text>
<linearGradient id="bg1" x1="0" x2="1" y1="0" y2="0"><stop offset="0" stop-color="#ececec"/><stop offset="0.5" stop-color="#e6e6e6"/><stop offset="1" stop-color="#e9e9e9"/></linearGradient>
<rect x="108.20" y="1092.00" width="392.60" height="65.20" fill="url(#bg1)" stroke="#1a1a1a" stroke-width="1.7" />
<rect x="108.80" y="1166.60" width="392.40" height="52.00" fill="url(#bg1)" stroke="#1a1a1a" stroke-width="1.7" />
<clipPath id="cp1"><rect x="109.2" y="1093" width="390.6" height="63.2"/></clipPath>
<clipPath id="cp2"><rect x="109.8" y="1167.6" width="390.4" height="50"/></clipPath>
<g clip-path="url(#cp1)">
<ellipse cx="229" cy="1126" rx="44" ry="24" fill="#8a8a8a" filter="url(#blur8)" opacity="0.75"/>
<ellipse cx="387" cy="1127" rx="38" ry="18" fill="#9a9a9a" filter="url(#blur8)" opacity="0.7"/>
<ellipse cx="461" cy="1122" rx="30" ry="10" fill="#c8c8c8" filter="url(#blur4)" opacity="0.6"/>
<path d="M197.5,1124 C201,1119 206,1115.5 214,1115.5 L252,1115.5 C258,1116 261,1121 260.5,1124.5 C260,1129 256,1134 250,1135.5 L216,1135.5 C208,1135 201,1130 197.5,1124 Z" fill="#000" filter="url(#blur1)"/>
<path d="M358.5,1124 C361,1119 367,1117 376,1117 L408,1117.5 C415,1118 417,1121 416.5,1124 C416,1128 412,1130 405,1130.5 L375,1131 C366,1131 361,1128 358.5,1124 Z" fill="#000" filter="url(#blur1)"/>
<ellipse cx="385" cy="1132" rx="22" ry="4.5" fill="#888" filter="url(#blur4)"/>
<path d="M437.5,1121.5 C440,1118.5 446,1118 452,1118.3 L478,1118.8 C484,1119.2 485,1122 483,1123.5 C480,1125 470,1125.3 460,1125.3 L448,1125.6 C441,1125.6 438,1123.5 437.5,1121.5 Z" fill="#6a6a6a" filter="url(#blur1)"/>
<ellipse cx="310" cy="1122" rx="25" ry="4" fill="#dcdcdc" filter="url(#blur2)"/>
</g>
<g clip-path="url(#cp2)">
<ellipse cx="144.2" cy="1194.6" rx="32.9" ry="14" fill="#bdbdbd" filter="url(#blur4)" opacity="0.5"/>
<path d="M116.2,1194.6 C118.2,1188.3 124.2,1188.3 130.2,1188.3 L158.1,1188.3 C166.1,1188.3 172.1,1190.3 172.1,1194.6 C172.1,1198.9 166.1,1200.9 158.1,1200.9 L130.2,1200.9 C124.2,1200.9 118.2,1200.9 116.2,1194.6 Z" fill="#000" filter="url(#blur1)"/>
<ellipse cx="219.4" cy="1194.6" rx="30.6" ry="14" fill="#bdbdbd" filter="url(#blur4)" opacity="0.5"/>
<path d="M193.8,1194.6 C195.8,1188.3 201.8,1188.3 207.8,1188.3 L231.1,1188.3 C239.1,1188.3 245.1,1190.3 245.1,1194.6 C245.1,1198.9 239.1,1200.9 231.1,1200.9 L207.8,1200.9 C201.8,1200.9 195.8,1200.9 193.8,1194.6 Z" fill="#000" filter="url(#blur1)"/>
<ellipse cx="294.0" cy="1196.0" rx="32.2" ry="14" fill="#bdbdbd" filter="url(#blur4)" opacity="0.5"/>
<path d="M266.9,1196.0 C268.9,1189.7 274.9,1189.7 280.9,1189.7 L307.2,1189.7 C315.2,1189.7 321.2,1191.7 321.2,1196.0 C321.2,1200.3 315.2,1202.3 307.2,1202.3 L280.9,1202.3 C274.9,1202.3 268.9,1202.3 266.9,1196.0 Z" fill="#000" filter="url(#blur1)"/>
<ellipse cx="371.6" cy="1194.4" rx="30.7" ry="14" fill="#bdbdbd" filter="url(#blur4)" opacity="0.5"/>
<path d="M346.0,1194.4 C348.0,1188.1 354.0,1188.1 360.0,1188.1 L383.3,1188.1 C391.3,1188.1 397.3,1190.1 397.3,1194.4 C397.3,1198.7 391.3,1200.7 383.3,1200.7 L360.0,1200.7 C354.0,1200.7 348.0,1200.7 346.0,1194.4 Z" fill="#000" filter="url(#blur1)"/>
<ellipse cx="450.9" cy="1193.0" rx="30.7" ry="14" fill="#bdbdbd" filter="url(#blur4)" opacity="0.5"/>
<path d="M425.2,1193.0 C427.2,1186.7 433.2,1186.7 439.2,1186.7 L462.5,1186.7 C470.5,1186.7 476.5,1188.7 476.5,1193.0 C476.5,1197.3 470.5,1199.3 462.5,1199.3 L439.2,1199.3 C433.2,1199.3 427.2,1199.3 425.2,1193.0 Z" fill="#000" filter="url(#blur1)"/>
</g>
<text x="41.84" y="1079.70" font-size="33" fill="#000" textLength="55.30" lengthAdjust="spacingAndGlyphs">kDa</text>
<text x="53.28" y="1112.10" font-size="33.5" fill="#000" textLength="44.79" lengthAdjust="spacingAndGlyphs">55-</text>
<text x="54.65" y="1154.10" font-size="33.5" fill="#000" textLength="43.39" lengthAdjust="spacingAndGlyphs">43-</text>
<text x="53.81" y="1202.00" font-size="33.5" fill="#000" textLength="44.26" lengthAdjust="spacingAndGlyphs">36-</text>
<text x="516.08" y="1138.20" font-size="33.5" fill="#000" textLength="43.39" lengthAdjust="spacingAndGlyphs">NP</text>
<text x="515.17" y="1203.30" font-size="33.5" fill="#000" textLength="114.66" lengthAdjust="spacingAndGlyphs">GAPDH</text>
<text x="-0.33" y="0.00" font-size="33" fill="#000" textLength="106.58" lengthAdjust="spacingAndGlyphs" transform="translate(25.00,1207.30) rotate(-90)">Vero E6</text>
<line x1="29.80" y1="1101.50" x2="29.80" y2="1202.60" stroke="#000" stroke-width="3.2" />
<text x="-0.34" y="0.00" font-size="33" fill="#000" textLength="74.45" lengthAdjust="spacingAndGlyphs" transform="translate(144.50,1079.50) rotate(-45)">Virus</text>
<text x="-0.99" y="0.00" font-size="33" fill="#000" textLength="95.30" lengthAdjust="spacingAndGlyphs" transform="translate(237.50,1079.50) rotate(-45)">DMSO</text>
<text x="-0.98" y="0.00" font-size="33" fill="#000" textLength="122.04" lengthAdjust="spacingAndGlyphs" transform="translate(320.00,1079.20) rotate(-45)">Full-time</text>
<text x="-1.00" y="0.00" font-size="33" fill="#000" textLength="74.23" lengthAdjust="spacingAndGlyphs" transform="translate(392.50,1079.20) rotate(-45)">Entry</text>
<text x="-0.99" y="0.00" font-size="33" fill="#000" textLength="135.18" lengthAdjust="spacingAndGlyphs" transform="translate(466.50,1078.80) rotate(-45)">Post-entry</text>
<line x1="183.60" y1="1016.60" x2="187.60" y2="1012.60" stroke="#000" stroke-width="1.7" />
<text x="679.16" y="904.50" font-size="42" fill="#000" textLength="18.24" lengthAdjust="spacingAndGlyphs">f</text>
<rect x="829.30" y="983.50" width="29.00" height="229.90" fill="#000" stroke="none" stroke-width="0" />
<rect x="909.00" y="991.00" width="29.00" height="222.40" fill="#808080" stroke="none" stroke-width="0" />
<rect x="948.90" y="1129.30" width="29.00" height="84.10" fill="#808080" stroke="none" stroke-width="0" />
<rect x="988.70" y="1172.70" width="29.00" height="40.70" fill="#808080" stroke="none" stroke-width="0" />
<rect x="1028.70" y="1037.30" width="29.00" height="176.10" fill="#808080" stroke="none" stroke-width="0" />
<rect x="1068.60" y="1051.00" width="29.00" height="162.40" fill="#808080" stroke="none" stroke-width="0" />
<rect x="1108.50" y="1091.60" width="29.00" height="121.80" fill="#808080" stroke="none" stroke-width="0" />
<rect x="1148.30" y="976.50" width="29.00" height="236.90" fill="#808080" stroke="none" stroke-width="0" />
<rect x="1188.20" y="1001.60" width="29.00" height="211.80" fill="#808080" stroke="none" stroke-width="0" />
<rect x="1228.10" y="981.60" width="29.00" height="231.80" fill="#808080" stroke="none" stroke-width="0" />
<rect x="1268.00" y="1059.80" width="29.00" height="153.60" fill="#808080" stroke="none" stroke-width="0" />
<rect x="1307.90" y="1089.90" width="29.00" height="123.50" fill="#808080" stroke="none" stroke-width="0" />
<line x1="843.80" y1="947.80" x2="843.80" y2="984.50" stroke="#000" stroke-width="2.6" />
<circle cx="843.80" cy="947.80" r="4.8" fill="#fff" stroke="#000" stroke-width="2.9"/>
<circle cx="843.80" cy="985.40" r="4.8" fill="#fff" stroke="#000" stroke-width="2.9"/>
<circle cx="843.80" cy="1020.90" r="4.8" fill="#fff" stroke="#000" stroke-width="2.9"/>
<circle cx="875.70" cy="1211.70" r="4.8" fill="#fff" stroke="#808080" stroke-width="2.9"/>
<circle cx="883.50" cy="1211.70" r="4.8" fill="#fff" stroke="#808080" stroke-width="2.9"/>
<circle cx="891.30" cy="1211.70" r="4.8" fill="#fff" stroke="#808080" stroke-width="2.9"/>
<line x1="923.50" y1="971.20" x2="923.50" y2="992.00" stroke="#808080" stroke-width="2.6" />
<line x1="917.00" y1="971.20" x2="930.00" y2="971.20" stroke="#808080" stroke-width="2.6" />
<circle cx="916.40" cy="974.50" r="4.8" fill="#fff" stroke="#808080" stroke-width="2.9"/>
<circle cx="930.20" cy="985.70" r="4.8" fill="#fff" stroke="#808080" stroke-width="2.9"/>
<circle cx="923.40" cy="1014.20" r="4.8" fill="#fff" stroke="#808080" stroke-width="2.9"/>
<line x1="963.40" y1="1114.50" x2="963.40" y2="1130.30" stroke="#808080" stroke-width="2.6" />
<line x1="956.90" y1="1114.50" x2="969.90" y2="1114.50" stroke="#808080" stroke-width="2.6" />
<circle cx="963.40" cy="1111.70" r="4.8" fill="#fff" stroke="#808080" stroke-width="2.9"/>
<circle cx="956.70" cy="1139.60" r="4.8" fill="#fff" stroke="#808080" stroke-width="2.9"/>
<circle cx="970.10" cy="1138.50" r="4.8" fill="#fff" stroke="#808080" stroke-width="2.9"/>
<line x1="1003.20" y1="1140.80" x2="1003.20" y2="1173.70" stroke="#808080" stroke-width="2.6" />
<line x1="996.70" y1="1140.80" x2="1009.70" y2="1140.80" stroke="#808080" stroke-width="2.6" />
<circle cx="1003.20" cy="1135.50" r="4.8" fill="#fff" stroke="#808080" stroke-width="2.9"/>
<circle cx="996.50" cy="1195.30" r="4.8" fill="#fff" stroke="#808080" stroke-width="2.9"/>
<circle cx="1009.90" cy="1189.80" r="4.8" fill="#fff" stroke="#808080" stroke-width="2.9"/>
<line x1="1043.20" y1="1026.30" x2="1043.20" y2="1038.30" stroke="#808080" stroke-width="2.6" />
<line x1="1036.70" y1="1026.30" x2="1049.70" y2="1026.30" stroke="#808080" stroke-width="2.6" />
<circle cx="1036.20" cy="1027.90" r="4.8" fill="#fff" stroke="#808080" stroke-width="2.9"/>
<circle cx="1049.90" cy="1035.50" r="4.8" fill="#fff" stroke="#808080" stroke-width="2.9"/>
<circle cx="1043.20" cy="1051.00" r="4.8" fill="#fff" stroke="#808080" stroke-width="2.9"/>
<line x1="1083.10" y1="1042.00" x2="1083.10" y2="1052.00" stroke="#808080" stroke-width="2.6" />
<line x1="1076.60" y1="1042.00" x2="1089.60" y2="1042.00" stroke="#808080" stroke-width="2.6" />
<circle cx="1083.10" cy="1040.60" r="4.8" fill="#fff" stroke="#808080" stroke-width="2.9"/>
<circle cx="1089.70" cy="1054.30" r="4.8" fill="#fff" stroke="#808080" stroke-width="2.9"/>
<circle cx="1076.30" cy="1060.20" r="4.8" fill="#fff" stroke="#808080" stroke-width="2.9"/>
<line x1="1123.00" y1="1084.50" x2="1123.00" y2="1092.60" stroke="#808080" stroke-width="2.6" />
<line x1="1116.50" y1="1084.50" x2="1129.50" y2="1084.50" stroke="#808080" stroke-width="2.6" />
<circle cx="1123.00" cy="1083.10" r="4.8" fill="#fff" stroke="#808080" stroke-width="2.9"/>
<circle cx="1129.80" cy="1091.60" r="4.8" fill="#fff" stroke="#808080" stroke-width="2.9"/>
<circle cx="1116.10" cy="1101.50" r="4.8" fill="#fff" stroke="#808080" stroke-width="2.9"/>
<line x1="1162.80" y1="951.00" x2="1162.80" y2="977.50" stroke="#808080" stroke-width="2.6" />
<line x1="1156.30" y1="951.00" x2="1169.30" y2="951.00" stroke="#808080" stroke-width="2.6" />
<circle cx="1162.80" cy="950.10" r="4.8" fill="#fff" stroke="#808080" stroke-width="2.9"/>
<circle cx="1162.80" cy="977.70" r="4.8" fill="#fff" stroke="#808080" stroke-width="2.9"/>
<circle cx="1162.80" cy="1004.40" r="4.8" fill="#fff" stroke="#808080" stroke-width="2.9"/>
<line x1="1202.70" y1="972.50" x2="1202.70" y2="1002.60" stroke="#808080" stroke-width="2.6" />
<line x1="1196.20" y1="972.50" x2="1209.20" y2="972.50" stroke="#808080" stroke-width="2.6" />
<circle cx="1202.70" cy="969.70" r="4.8" fill="#fff" stroke="#808080" stroke-width="2.9"/>
<circle cx="1202.70" cy="1011.20" r="4.8" fill="#fff" stroke="#808080" stroke-width="2.9"/>
<circle cx="1202.70" cy="1027.20" r="4.8" fill="#fff" stroke="#808080" stroke-width="2.9"/>
<line x1="1242.60" y1="968.00" x2="1242.60" y2="982.60" stroke="#808080" stroke-width="2.6" />
<line x1="1236.10" y1="968.00" x2="1249.10" y2="968.00" stroke="#808080" stroke-width="2.6" />
<circle cx="1242.60" cy="966.30" r="4.8" fill="#fff" stroke="#808080" stroke-width="2.9"/>
<circle cx="1249.40" cy="986.10" r="4.8" fill="#fff" stroke="#808080" stroke-width="2.9"/>
<circle cx="1235.80" cy="995.90" r="4.8" fill="#fff" stroke="#808080" stroke-width="2.9"/>
<line x1="1282.50" y1="1048.00" x2="1282.50" y2="1060.80" stroke="#808080" stroke-width="2.6" />
<line x1="1276.00" y1="1048.00" x2="1289.00" y2="1048.00" stroke="#808080" stroke-width="2.6" />
<circle cx="1282.50" cy="1046.50" r="4.8" fill="#fff" stroke="#808080" stroke-width="2.9"/>
<circle cx="1289.30" cy="1061.40" r="4.8" fill="#fff" stroke="#808080" stroke-width="2.9"/>
<circle cx="1275.70" cy="1073.20" r="4.8" fill="#fff" stroke="#808080" stroke-width="2.9"/>
<line x1="1322.40" y1="1067.00" x2="1322.40" y2="1090.90" stroke="#808080" stroke-width="2.6" />
<line x1="1315.90" y1="1067.00" x2="1328.90" y2="1067.00" stroke="#808080" stroke-width="2.6" />
<circle cx="1322.40" cy="1065.50" r="4.8" fill="#fff" stroke="#808080" stroke-width="2.9"/>
<circle cx="1322.40" cy="1093.30" r="4.8" fill="#fff" stroke="#808080" stroke-width="2.9"/>
<circle cx="1322.40" cy="1113.80" r="4.8" fill="#fff" stroke="#808080" stroke-width="2.9"/>
<line x1="824.20" y1="914.80" x2="824.20" y2="1215.00" stroke="#000" stroke-width="3.2" />
<line x1="816.00" y1="1213.40" x2="824.20" y2="1213.40" stroke="#000" stroke-width="3.2" />
<text x="795.46" y="1224.40" font-size="34" fill="#000" textLength="17.00" lengthAdjust="spacingAndGlyphs">0</text>
<line x1="816.00" y1="1099.10" x2="824.20" y2="1099.10" stroke="#000" stroke-width="3.2" />
<text x="778.46" y="1110.10" font-size="34" fill="#000" textLength="34.00" lengthAdjust="spacingAndGlyphs">50</text>
<line x1="816.00" y1="984.80" x2="824.20" y2="984.80" stroke="#000" stroke-width="3.2" />
<text x="761.46" y="995.80" font-size="34" fill="#000" textLength="51.00" lengthAdjust="spacingAndGlyphs">100</text>
<line x1="815.70" y1="1213.60" x2="1345.50" y2="1213.60" stroke="#000" stroke-width="3.4" />
<line x1="843.80" y1="1213.50" x2="843.80" y2="1221.80" stroke="#000" stroke-width="3.2" />
<line x1="883.60" y1="1213.50" x2="883.60" y2="1221.80" stroke="#000" stroke-width="3.2" />
<line x1="923.50" y1="1213.50" x2="923.50" y2="1221.80" stroke="#000" stroke-width="3.2" />
<line x1="963.40" y1="1213.50" x2="963.40" y2="1221.80" stroke="#000" stroke-width="3.2" />
<line x1="1003.20" y1="1213.50" x2="1003.20" y2="1221.80" stroke="#000" stroke-width="3.2" />
<line x1="1043.20" y1="1213.50" x2="1043.20" y2="1221.80" stroke="#000" stroke-width="3.2" />
<line x1="1083.10" y1="1213.50" x2="1083.10" y2="1221.80" stroke="#000" stroke-width="3.2" />
<line x1="1123.00" y1="1213.50" x2="1123.00" y2="1221.80" stroke="#000" stroke-width="3.2" />
<line x1="1162.80" y1="1213.50" x2="1162.80" y2="1221.80" stroke="#000" stroke-width="3.2" />
<line x1="1202.70" y1="1213.50" x2="1202.70" y2="1221.80" stroke="#000" stroke-width="3.2" />
<line x1="1242.60" y1="1213.50" x2="1242.60" y2="1221.80" stroke="#000" stroke-width="3.2" />
<line x1="1282.50" y1="1213.50" x2="1282.50" y2="1221.80" stroke="#000" stroke-width="3.2" />
<line x1="1322.40" y1="1213.50" x2="1322.40" y2="1221.80" stroke="#000" stroke-width="3.2" />
<text x="-1.15" y="0.00" font-size="32.5" fill="#000" textLength="201.28" lengthAdjust="spacingAndGlyphs" transform="translate(706.90,1158.10) rotate(-90)">% Dalbavancin</text>
<text x="-1.46" y="0.00" font-size="32.5" fill="#000" textLength="247.73" lengthAdjust="spacingAndGlyphs" transform="translate(745.30,1177.30) rotate(-90)">(nomalized to WT)</text>
<text x="913.51" y="966.10" font-size="29" fill="#000" textLength="25.79" lengthAdjust="spacingAndGlyphs">ns</text>
<text x="1153.11" y="940.50" font-size="29" fill="#000" textLength="25.79" lengthAdjust="spacingAndGlyphs">ns</text>
<text x="1194.61" y="961.00" font-size="29" fill="#000" textLength="25.79" lengthAdjust="spacingAndGlyphs">ns</text>
<text x="1234.41" y="956.50" font-size="29" fill="#000" textLength="25.79" lengthAdjust="spacingAndGlyphs">ns</text>
<use href="#ast" transform="translate(960.55,1097.15) scale(1.000)" fill="#000"/>
<use href="#ast" transform="translate(973.25,1097.15) scale(1.000)" fill="#000"/>
<use href="#ast" transform="translate(1000.25,1121.25) scale(1.000)" fill="#000"/>
<use href="#ast" transform="translate(1012.95,1121.25) scale(1.000)" fill="#000"/>
<use href="#ast" transform="translate(1043.80,1014.20) scale(1.000)" fill="#000"/>
<use href="#ast" transform="translate(1080.15,1026.15) scale(1.000)" fill="#000"/>
<use href="#ast" transform="translate(1092.85,1026.15) scale(1.000)" fill="#000"/>
<use href="#ast" transform="translate(1120.15,1069.40) scale(1.000)" fill="#000"/>
<use href="#ast" transform="translate(1132.85,1069.40) scale(1.000)" fill="#000"/>
<use href="#ast" transform="translate(1278.75,1035.15) scale(1.000)" fill="#000"/>
<use href="#ast" transform="translate(1291.45,1035.15) scale(1.000)" fill="#000"/>
<use href="#ast" transform="translate(1320.85,1052.25) scale(1.000)" fill="#000"/>
<use href="#ast" transform="translate(1333.55,1052.25) scale(1.000)" fill="#000"/>
<text x="0" y="0" font-size="33" text-anchor="end" transform="translate(851.80,1246) rotate(-45)">WT</text>
<text x="0" y="0" font-size="33" text-anchor="end" transform="translate(891.60,1246) rotate(-45)">PBS</text>
<text x="0" y="0" font-size="33" text-anchor="end" transform="translate(931.50,1246) rotate(-45)">Y41G</text>
<text x="0" y="0" font-size="33" text-anchor="end" transform="translate(971.40,1246) rotate(-45)">W48G</text>
<text x="0" y="0" font-size="33" text-anchor="end" transform="translate(1011.20,1246) rotate(-45)">T324G</text>
<text x="0" y="0" font-size="33" text-anchor="end" transform="translate(1051.20,1246) rotate(-45)">Q325G</text>
<text x="0" y="0" font-size="33" text-anchor="end" transform="translate(1091.10,1246) rotate(-45)">W349G</text>
<text x="0" y="0" font-size="33" text-anchor="end" transform="translate(1131.00,1246) rotate(-45)">K353G</text>
<text x="0" y="0" font-size="33" text-anchor="end" transform="translate(1170.80,1246) rotate(-45)">D355G</text>
<text x="0" y="0" font-size="33" text-anchor="end" transform="translate(1210.70,1246) rotate(-45)">F356G</text>
<text x="0" y="0" font-size="33" text-anchor="end" transform="translate(1250.60,1246) rotate(-45)">F390G</text>
<text x="0" y="0" font-size="33" text-anchor="end" transform="translate(1290.50,1246) rotate(-45)">L391G</text>
<text x="0" y="0" font-size="33" text-anchor="end" transform="translate(1330.40,1246) rotate(-45)">R393G</text>
</svg>
</body></html>
